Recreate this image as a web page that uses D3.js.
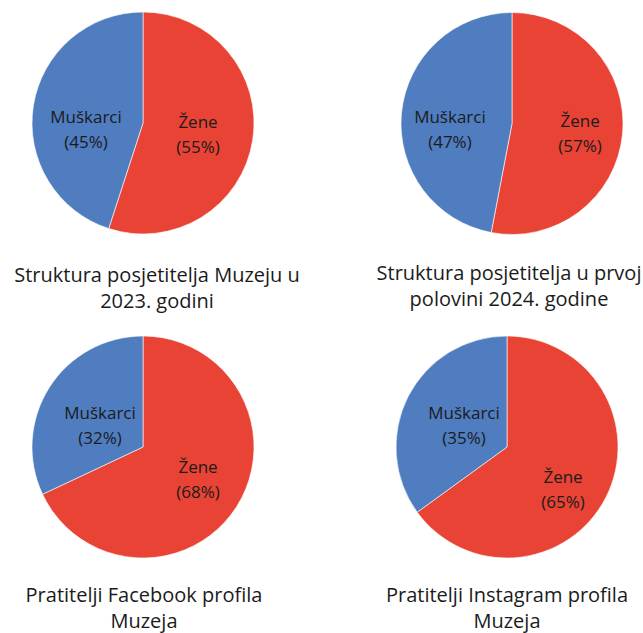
<!DOCTYPE html>
<html>
<head>
<meta charset="utf-8">
<script src="https://cdn.jsdelivr.net/npm/d3@7"></script>
<style>
  body { margin: 0; background: #fff; overflow: hidden; }
  svg text { font-family: "Open Sans", "Noto Sans", sans-serif; }
</style>
</head>
<body>
<div id="chart"></div>
<script>
// podaci
const categories = ["Žene", "Muškarci"];
const titles = [
    ["Struktura posjetitelja Muzeju u", "2023. godini"],
    ["Struktura posjetitelja u prvoj", "polovini 2024. godine"],
    ["Pratitelji Facebook profila", "Muzeja"],
    ["Pratitelji Instagram profila", "Muzeja"]
];
// vrijednosti za kriske (Žene, Muškarci)
const values = [
    [55, 45],
    [53, 47],
    [68, 32],
    [65, 35]
];
// tekst postotaka kako piše na slici
const pctLabels = [
    ["55%", "45%"],
    ["57%", "47%"],
    ["68%", "32%"],
    ["65%", "35%"]
];

const WIDTH = 643, HEIGHT = 633;
const color = d3.scaleOrdinal().domain(categories).range(["#E94335", "#4F7DC0"]);

// raspored grafova (centar, naslov, pomak oznaka kao u Excelu)
const layout = [
    {cx: 143, cy: 123, tx: 157, ty: 282, nudge: [[-2, 1.5], [0, 15.5]]},
    {cx: 512, cy: 123.5, tx: 509, ty: 280, nudge: [[10.6, 4], [-4.6, 11]]},
    {cx: 143, cy: 447, tx: 144, ty: 602, nudge: [[6.3, 0.6], [5.7, 8.9]]},
    {cx: 507, cy: 447, tx: 507, ty: 602, nudge: [[4.6, 15.8], [8.4, 4.2]]}
];
const R = 111;

var svg = d3.select("#chart").append("svg")
    .attr("width", WIDTH)
    .attr("height", HEIGHT);

var pie = d3.pie().sort(null).value(d => d.v);
var arc = d3.arc().innerRadius(0).outerRadius(R);
var labelArc = d3.arc().innerRadius(R * 0.52).outerRadius(R * 0.52);

for (let i = 0; i < values.length; i++) {
    let data = categories.map((c, j) => ({c: c, v: values[i][j], p: pctLabels[i][j], j: j}));
    let g = svg.append("g").attr("transform", `translate(${layout[i].cx},${layout[i].cy})`);

    g.selectAll("path")
        .data(pie(data))
        .enter().append("path")
        .attr("d", arc)
        .attr("fill", d => color(d.data.c))
        .attr("stroke", "#fff")
        .attr("stroke-width", 0.6);

    let lbl = g.selectAll("text.lbl")
        .data(pie(data))
        .enter().append("text")
        .attr("class", "lbl")
        .attr("transform", d => {
            let p = labelArc.centroid(d);
            let n = layout[i].nudge[d.data.j];
            return `translate(${p[0] + n[0]},${p[1] + n[1]})`;
        })
        .attr("text-anchor", "middle")
        .attr("font-size", 17)
        .attr("fill", "#1b1b1b");
    lbl.append("tspan").attr("x", 0).attr("y", -6).text(d => d.data.c);
    lbl.append("tspan").attr("x", 0).attr("y", 19).text(d => "(" + d.data.p + ")");

    let t = svg.append("text")
        .attr("text-anchor", "middle")
        .attr("font-size", 20)
        .attr("fill", "#1b1b1b");
    titles[i].forEach((line, k) => {
        t.append("tspan").attr("x", layout[i].tx).attr("y", layout[i].ty + k * 25.5).text(line);
    });
}
</script>
</body>
</html>
